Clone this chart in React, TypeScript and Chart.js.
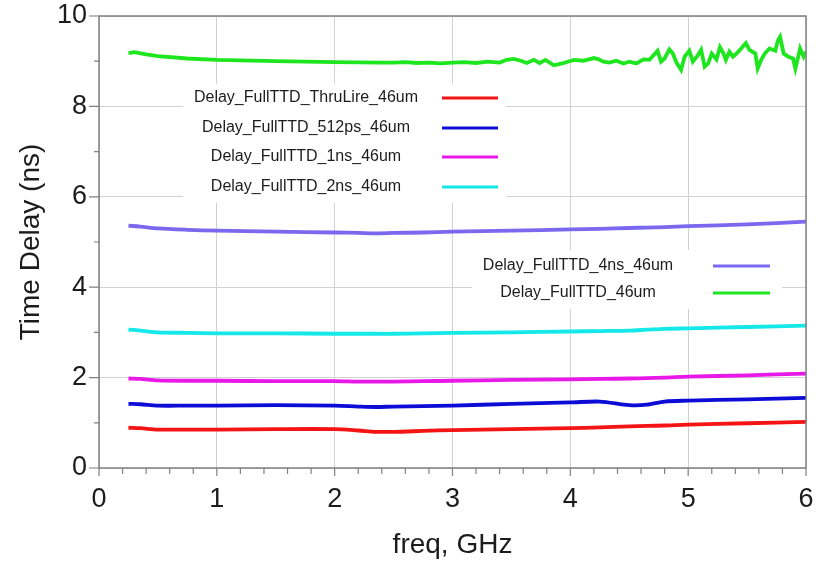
import { useEffect, useRef } from 'react';
import { Chart, registerables } from 'chart.js';

Chart.register(...registerables);

// ---------- data ----------
const seriesNames = [
  'Delay_FullTTD_ThruLire_46um',
  'Delay_FullTTD_512ps_46um',
  'Delay_FullTTD_1ns_46um',
  'Delay_FullTTD_2ns_46um',
  'Delay_FullTTD_4ns_46um',
  'Delay_FullTTD_46um',
];
const seriesColors = ['#f41414', '#0c0cd6', '#e818e8', '#14e8e8', '#7b68ee', '#1ee61e'];

const freqGHz = [0.25, 0.35, 0.5, 0.75, 1, 1.5, 2, 2.2, 2.35, 2.5, 2.75, 3, 3.5, 4, 4.25, 4.5, 4.65, 4.8, 5, 5.5, 6];
const thruLineDelay = [0.89, 0.88, 0.85, 0.85, 0.85, 0.86, 0.86, 0.83, 0.8, 0.8, 0.82, 0.84, 0.86, 0.88, 0.9, 0.92, 0.93, 0.94, 0.96, 0.99, 1.02];
const delay512ps = [1.42, 1.41, 1.38, 1.38, 1.38, 1.39, 1.38, 1.36, 1.35, 1.36, 1.37, 1.38, 1.42, 1.45, 1.47, 1.39, 1.4, 1.47, 1.49, 1.52, 1.55];
const delay1ns = [1.98, 1.97, 1.94, 1.93, 1.93, 1.92, 1.92, 1.91, 1.91, 1.91, 1.92, 1.93, 1.95, 1.96, 1.97, 1.98, 1.99, 2.0, 2.02, 2.05, 2.09];
const delay2ns = [3.06, 3.04, 3.0, 2.99, 2.98, 2.98, 2.97, 2.97, 2.97, 2.97, 2.98, 2.99, 3.0, 3.02, 3.03, 3.04, 3.06, 3.08, 3.09, 3.12, 3.15];
const delay4ns = [5.36, 5.34, 5.3, 5.27, 5.25, 5.23, 5.21, 5.2, 5.19, 5.2, 5.21, 5.23, 5.25, 5.28, 5.29, 5.31, 5.32, 5.33, 5.35, 5.39, 5.45];

const fullFreqGHz = [
  0.25, 0.3, 0.4, 0.5, 0.75, 1, 1.5, 2, 2.4, 2.5, 2.6, 2.7, 2.8, 2.9, 3.0, 3.1, 3.2, 3.3, 3.4,
  3.46, 3.52, 3.58, 3.63, 3.69, 3.74, 3.79, 3.86, 3.93, 4.03, 4.11, 4.2,
  4.24, 4.28, 4.33, 4.39, 4.45, 4.5, 4.56, 4.62, 4.67, 4.72, 4.74, 4.77, 4.8, 4.84, 4.87, 4.9,
  4.94, 4.97, 5.01, 5.04, 5.08, 5.11, 5.14, 5.17, 5.2, 5.24, 5.27, 5.3, 5.32, 5.35, 5.38, 5.41,
  5.45, 5.49, 5.52, 5.57, 5.59, 5.62, 5.65, 5.69, 5.74, 5.76, 5.78, 5.81, 5.85, 5.89, 5.91, 5.95,
  5.98, 6.0,
];
const fullDelay = [
  9.18, 9.2, 9.15, 9.11, 9.06, 9.03, 9.0, 8.98, 8.97, 8.97, 8.98, 8.96, 8.97, 8.95, 8.97, 8.98, 8.96, 8.99, 8.97,
  9.03, 9.05, 9.01, 8.96, 9.03, 8.96, 9.03, 8.91, 8.95, 9.03, 9.01, 9.07,
  9.04, 8.99, 8.97, 9.01, 8.95, 8.99, 8.95, 9.04, 9.03, 9.17, 9.23, 8.99, 9.06, 9.26, 9.17, 8.97,
  8.81, 9.1, 9.23, 8.99, 9.12, 9.25, 8.88, 8.95, 9.17, 9.04, 9.31, 9.17, 9.03, 9.21, 9.1, 9.17,
  9.28, 9.4, 9.25, 9.17, 8.84, 9.03, 9.17, 9.28, 9.23, 9.45, 9.54, 9.17, 9.1, 9.06, 8.84, 9.28,
  9.1, 9.21,
];

const xMin = 0, xMax = 6, xMajorStep = 1, xMinorStep = 0.2;
const yMin = 0, yMax = 10, yMajorStep = 2, yMinorStep = 1;
const xTitle = 'freq, GHz';
const yTitle = 'Time Delay (ns)';

const FONT = '"Liberation Sans", Arial, sans-serif';
const TEXT = '#1c1c1c';

function pts(xs: number[], ys: number[]) {
  return xs.map((x, i) => ({ x, y: ys[i] }));
}

const legendBoxes = [
  { x0: 183, y0: 84, x1: 506, y1: 203, textX: 306, lineX0: 442, lineX1: 498, rows: [98, 128, 157, 187], idx: [0, 1, 2, 3] },
  { x0: 472, y0: 250, x1: 782, y1: 309, textX: 578, lineX0: 713, lineX1: 770, rows: [266, 293], idx: [4, 5] },
];

const decorPlugin = {
  id: 'decor',
  beforeDatasetsDraw(chart: any) {
    const { ctx } = chart;
    ctx.save();
    ctx.fillStyle = '#ffffff';
    legendBoxes.forEach((b) => ctx.fillRect(b.x0, b.y0, b.x1 - b.x0, b.y1 - b.y0));
    ctx.restore();
  },
  afterDatasetsDraw(chart: any) {
    const { ctx, chartArea: a, scales } = chart;
    ctx.save();
    ctx.strokeStyle = '#808080';
    ctx.lineWidth = 1.5;
    ctx.strokeRect(a.left, a.top, a.right - a.left, a.bottom - a.top);
    ctx.lineWidth = 1.2;
    ctx.beginPath();
    const yN = Math.round((yMax - yMin) / yMinorStep);
    for (let i = 0; i <= yN; i++) {
      const v = yMin + i * yMinorStep;
      const y = scales.y.getPixelForValue(v);
      const major = Math.abs(v / yMajorStep - Math.round(v / yMajorStep)) < 1e-6;
      const len = major ? 10 : 5;
      ctx.moveTo(a.left - len, y);
      ctx.lineTo(a.left, y);
    }
    const xN = Math.round((xMax - xMin) / xMinorStep);
    for (let i = 0; i <= xN; i++) {
      const v = xMin + i * xMinorStep;
      const x = scales.x.getPixelForValue(v);
      const major = Math.abs(v / xMajorStep - Math.round(v / xMajorStep)) < 1e-6;
      const len = major ? 8 : 6;
      ctx.moveTo(x, a.bottom);
      ctx.lineTo(x, a.bottom + len);
    }
    ctx.stroke();
    ctx.font = `16px ${FONT}`;
    ctx.textAlign = 'center';
    ctx.textBaseline = 'middle';
    legendBoxes.forEach((b) => {
      b.idx.forEach((di, r) => {
        const ds = chart.data.datasets[di];
        const y = b.rows[r];
        ctx.fillStyle = TEXT;
        ctx.fillText(ds.label, b.textX, y);
        ctx.strokeStyle = ds.borderColor;
        ctx.lineWidth = 3;
        ctx.beginPath();
        ctx.moveTo(b.lineX0, y);
        ctx.lineTo(b.lineX1, y);
        ctx.stroke();
      });
    });
    ctx.restore();
  },
};

export default function App() {
  const ref = useRef<HTMLCanvasElement | null>(null);
  useEffect(() => {
    if (!ref.current) return;
    const seriesData = [
      pts(freqGHz, thruLineDelay),
      pts(freqGHz, delay512ps),
      pts(freqGHz, delay1ns),
      pts(freqGHz, delay2ns),
      pts(freqGHz, delay4ns),
      pts(fullFreqGHz, fullDelay),
    ];
    const chart = new Chart(ref.current, {
      type: 'line',
      data: {
        datasets: seriesData.map((d, i) => ({
          label: seriesNames[i],
          data: d,
          borderColor: seriesColors[i],
          backgroundColor: seriesColors[i],
          borderWidth: 3.8,
          pointRadius: 0,
          tension: i === 5 ? 0 : 0.3,
          fill: false,
        })),
      },
      options: {
        animation: false,
        responsive: true,
        maintainAspectRatio: false,
        layout: { padding: { top: 16, right: 10, left: 0, bottom: 0 } },
        plugins: { legend: { display: false }, tooltip: { enabled: false } },
        scales: {
          x: {
            type: 'linear',
            min: xMin,
            max: xMax,
            grid: { color: '#d2d2d2', lineWidth: 1, drawTicks: false },
            border: { display: false },
            ticks: { stepSize: xMajorStep, autoSkip: false, padding: 15, color: TEXT, font: { family: FONT, size: 27 }, maxRotation: 0 },
            title: { display: true, text: xTitle, color: TEXT, font: { family: FONT, size: 28 }, padding: { top: 0, bottom: 2 } },
            afterFit: (s: any) => { s.height = 96; s.paddingLeft = 0; s.paddingRight = 0; s.paddingTop = 0; s.paddingBottom = 0; },
          },
          y: {
            type: 'linear',
            min: yMin,
            max: yMax,
            grid: { color: '#d2d2d2', lineWidth: 1, drawTicks: false },
            border: { display: false },
            ticks: { stepSize: yMajorStep, padding: 12, color: TEXT, font: { family: FONT, size: 27 } },
            title: { display: true, text: yTitle, color: TEXT, font: { family: FONT, size: 28 }, padding: { top: 14, bottom: 0 } },
            afterFit: (s: any) => { s.width = 99; s.paddingLeft = 0; s.paddingRight = 0; s.paddingTop = 0; s.paddingBottom = 0; },
          },
        },
      },
      plugins: [decorPlugin],
    });
    return () => chart.destroy();
  }, []);
  return (
    <div style={{ position: 'fixed', left: 0, top: 0, width: 816, height: 564, background: '#fff' }}>
      <canvas ref={ref} />
    </div>
  );
}
